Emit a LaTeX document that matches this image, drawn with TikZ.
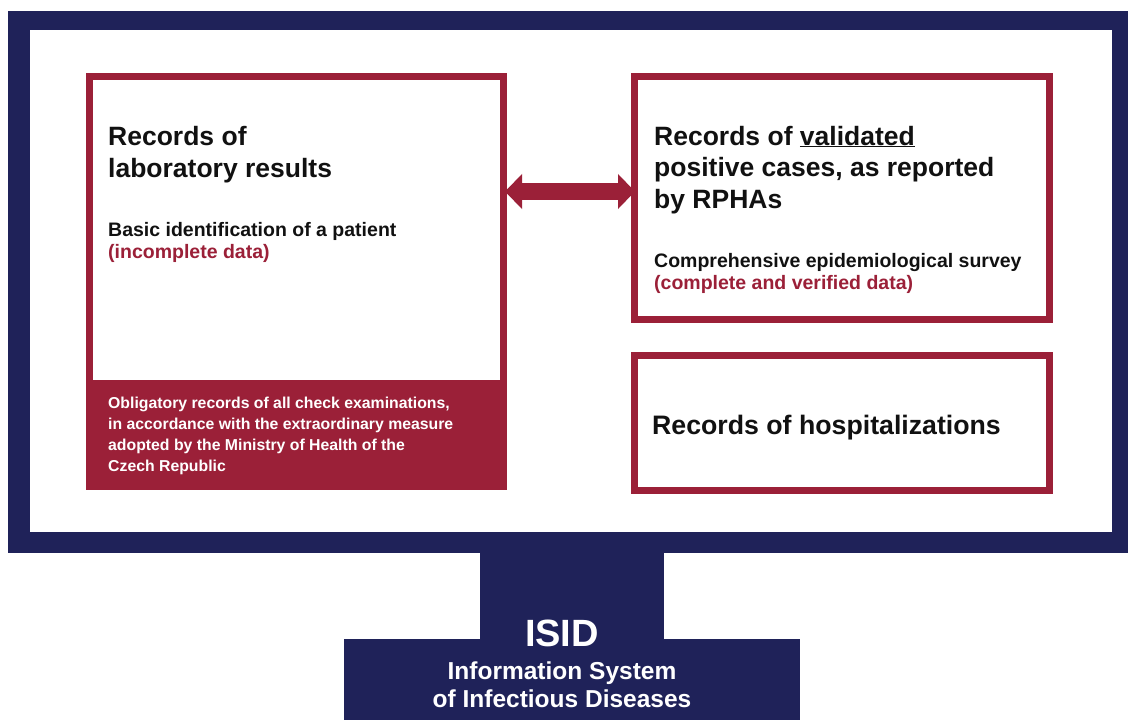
\documentclass[tikz,border=0pt]{standalone}
\usepackage{fontspec}
\setmainfont{Liberation Sans}
\usetikzlibrary{arrows.meta}
\definecolor{navy}{HTML}{1F2259}
\definecolor{crim}{HTML}{9B2038}
\definecolor{ink}{HTML}{111111}
\begin{document}
\begin{tikzpicture}[x=1pt,y=-1pt,
  redbox/.style={draw=crim, line width=7pt, fill=white, inner sep=0pt},
  txt/.style={anchor=base west, inner sep=0pt, align=left, text=ink, font=\bfseries},
  ctxt/.style={anchor=base, inner sep=0pt, align=center, text=white, font=\bfseries}]
\useasboundingbox (0,0) rectangle (1128,720);
% monitor frame
\node[fill=navy, inner sep=0pt, minimum width=1127pt, minimum height=542pt, anchor=north west] (frame) at (8,11) {};
\node[fill=white, inner sep=0pt, minimum width=1082pt, minimum height=502pt, anchor=north west] (screen) at (30,30) {};
% stand
\node[fill=navy, inner sep=0pt, minimum width=184pt, minimum height=92pt, anchor=north west] (neck) at (480,550) {};
\node[fill=navy, inner sep=0pt, minimum width=456pt, minimum height=83pt, anchor=north west] (base) at (344,639) {};
% boxes
\node[redbox, minimum width=414pt, minimum height=410pt] (lab) at (296.5,281.5) {};
\node[fill=crim, inner sep=0pt, minimum width=421pt, minimum height=110pt, anchor=north west] (band) at (86,380) {};
\node[redbox, minimum width=415pt, minimum height=243pt] (pos) at (842,198) {};
\node[redbox, minimum width=415pt, minimum height=135pt] (hosp) at (842,423) {};
% arrow
\coordinate (arrA) at (0,191.5);
\draw[crim, line width=17pt, shorten <=-2pt, shorten >=-4pt, {Triangle[width=34pt,length=17pt]}-{Triangle[width=34pt,length=17pt]}] (lab.east |- arrA) -- (pos.west |- arrA);
% texts (anchor = baseline of the last line)
\node[txt, font=\bfseries\fontsize{26.5}{32}\selectfont] (labT) at (108,177) {Records of\\laboratory results};
\node[txt, font=\bfseries\fontsize{19.5}{22}\selectfont] (labS) at (108,258) {Basic identification of a patient\\\textcolor{crim}{(incomplete data)}};
\node[txt, text=white, font=\bfseries\fontsize{15.8}{21}\selectfont] (bandT) at (108,471) {Obligatory records of all check examinations,\\in accordance with the extraordinary measure\\adopted by the Ministry of Health of the\\Czech Republic};
\node[txt, font=\bfseries\fontsize{26.5}{31.5}\selectfont] (posT) at (654,208) {Records of \underline{validated}\\positive cases, as reported\\by RPHAs};
\node[txt, font=\bfseries\fontsize{19.5}{22}\selectfont] (posS) at (654,289) {Comprehensive epidemiological survey\\\textcolor{crim}{(complete and verified data)}};
\node[txt, font=\bfseries\fontsize{26.7}{32}\selectfont] (hospT) at (652,434) {Records of hospitalizations};
\node[ctxt, font=\bfseries\fontsize{38}{40}\selectfont] (isid) at (562,646) {ISID};
\node[ctxt, font=\bfseries\fontsize{24.5}{28}\selectfont] (isidS) at (562,707) {Information System\\of Infectious Diseases};
\end{tikzpicture}
\end{document}
